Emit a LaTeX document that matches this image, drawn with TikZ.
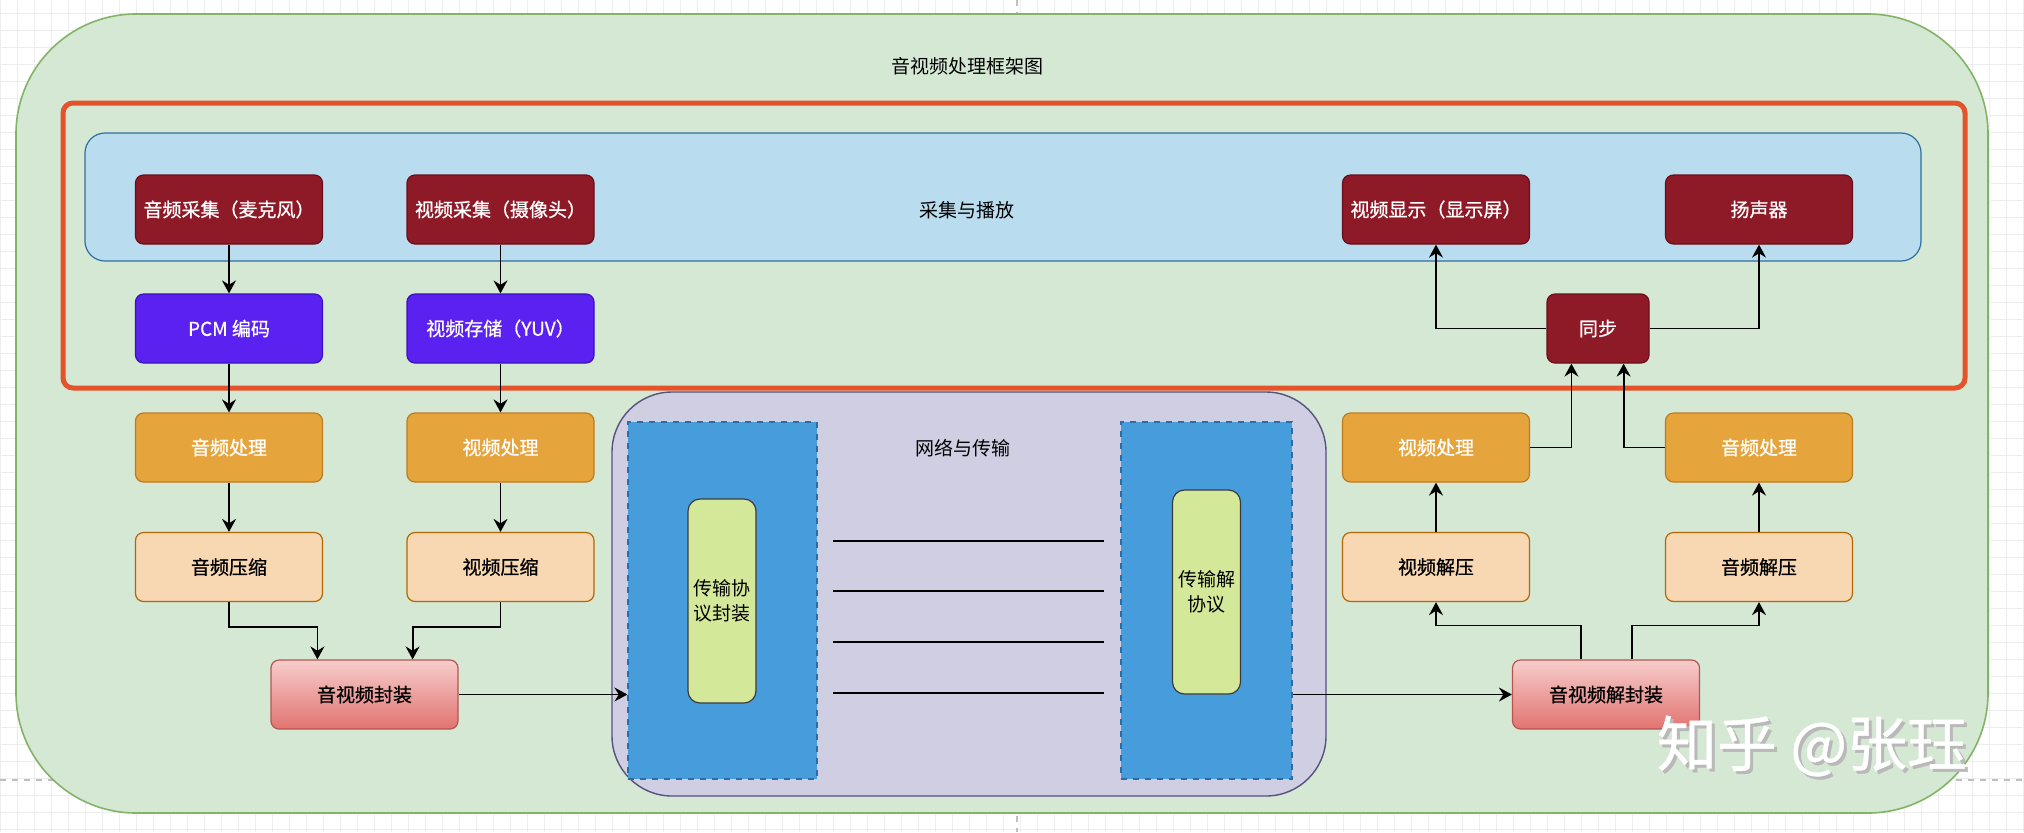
\documentclass[tikz,border=0pt]{standalone}
\usepackage{fontspec}
\setmainfont{Noto Sans CJK SC}
\newfontfamily\boxfont{Noto Sans CJK SC}[FakeBold=0.7]
\usetikzlibrary{arrows.meta}
\definecolor{outerfill}{HTML}{D5E8D4}
\definecolor{outerdraw}{HTML}{82B366}
\definecolor{redline}{HTML}{E5532B}
\definecolor{capfill}{HTML}{B9DCEE}
\definecolor{capdraw}{HTML}{2F6F9F}
\definecolor{darkred}{HTML}{8E1A28}
\definecolor{darkredb}{HTML}{6B0D18}
\definecolor{violet}{HTML}{5B21F0}
\definecolor{violetb}{HTML}{3C10C0}
\definecolor{amber}{HTML}{E6A43C}
\definecolor{amberb}{HTML}{C07A1E}
\definecolor{peach}{HTML}{F8D8B2}
\definecolor{peachb}{HTML}{B46504}
\definecolor{gradtop}{HTML}{F7CDCB}
\definecolor{gradbot}{HTML}{E27370}
\definecolor{gradb}{HTML}{B85450}
\definecolor{lav}{HTML}{D0CEE2}
\definecolor{lavb}{HTML}{56517E}
\definecolor{dblue}{HTML}{479DDB}
\definecolor{dblueb}{HTML}{2E6DA4}
\definecolor{lime}{HTML}{D4E89A}
\definecolor{limeb}{HTML}{3A3A3A}
\definecolor{gridc}{HTML}{EDEDED}
\begin{document}
\begin{tikzpicture}[>={Stealth[length=6.5pt,width=7pt,inset=2.2pt]},x=0.5pt,y=-0.5pt,
  every node/.style={font=\fontsize{9.5}{12.5}\selectfont},
  box/.style={draw,rounded corners=4pt,minimum width=93.5pt,minimum height=34.5pt,inner sep=1pt,line width=0.6pt,font=\fontsize{9.5}{12.5}\selectfont\boxfont},
  capbox/.style={box,fill=darkred,draw=darkredb,text=white},
  rawbox/.style={box,fill=violet,draw=violetb,text=white},
  procbox/.style={box,fill=amber,draw=amberb,text=white},
  zipbox/.style={box,fill=peach,draw=peachb},
  muxbox/.style={box,top color=gradtop,bottom color=gradbot,draw=gradb},
  dashbox/.style={draw=dblueb,fill=dblue,dashed,line width=0.6pt},
  pill/.style={draw=limeb,fill=lime,rounded corners=6pt,minimum width=34pt,minimum height=102pt,align=center,inner sep=1pt,line width=0.6pt},
  link/.style={->,line width=0.9pt}]
\useasboundingbox (0,0) rectangle (2024,832);
\fill[white] (0,0) rectangle (2024,832);
\foreach \gx in {0,17,...,2024} \draw[gridc,line width=0.4pt] (\gx,0) -- (\gx,832);
\foreach \gy in {13,30,...,832} \draw[gridc,line width=0.4pt] (0,\gy) -- (2024,\gy);
\draw[gray!50,dashed,line width=0.6pt] (0,780) -- (2024,780);
\draw[gray!50,dashed,line width=0.6pt] (1017,0) -- (1017,832);
\draw[fill=outerfill,draw=outerdraw,line width=0.8pt,rounded corners=60pt] (16,14) rectangle (1988,813);
\node (title) at (967,66) {音视频处理框架图};
\draw[redline,line width=2.5pt,rounded corners=5pt] (63,103) rectangle (1965,388);
\draw[fill=capfill,draw=capdraw,line width=0.6pt,rounded corners=10pt] (85,133) rectangle (1921,261);
\node (capt) at (967,210) {采集与播放};
\draw[fill=lav,draw=lavb,line width=0.7pt,rounded corners=30pt] (612,392) rectangle (1326,796);
\node (nett) at (963,448) {网络与传输};
\node[dashbox,minimum width=94.5pt,minimum height=178.5pt] (lbox) at (722.5,600.5) {};
\node[dashbox,minimum width=85.5pt,minimum height=178.5pt] (rbox) at (1206.5,600.5) {};
\node[pill] (pack) at (722,601) {传输协\\议封装};
\node[pill] (unpack) at (1206.5,592) {传输解\\协议};
\foreach \ly in {541,591,642,693} \draw[line width=1pt] (833,\ly) -- (1104,\ly);
\node[capbox] (acap) at (229,209.5) {音频采集（麦克风）};
\node[capbox] (vcap) at (500.5,209.5) {视频采集（摄像头）};
\node[rawbox] (pcm) at (229,328.5) {PCM 编码};
\node[rawbox] (yuv) at (500.5,328.5) {视频存储（YUV）};
\node[procbox] (aproc) at (229,447.5) {音频处理};
\node[procbox] (vproc) at (500.5,447.5) {视频处理};
\node[zipbox] (acomp) at (229,567) {音频压缩};
\node[zipbox] (vcomp) at (500.5,567) {视频压缩};
\node[muxbox] (mux) at (364.5,694.5) {音视频封装};
\node[capbox] (vdisp) at (1436,209.5) {视频显示（显示屏）};
\node[capbox] (spk) at (1759,209.5) {扬声器};
\node[capbox,minimum width=51pt] (sync) at (1598,328.5) {同步};
\node[procbox] (vproc2) at (1436,447.5) {视频处理};
\node[procbox] (aproc2) at (1759,447.5) {音频处理};
\node[zipbox] (vdec) at (1436,567) {视频解压};
\node[zipbox] (adec) at (1759,567) {音频解压};
\node[muxbox] (demux) at (1606,694.5) {音视频解封装};
\draw[link] (acap) -- (pcm);
\draw[link] (vcap) -- (yuv);
\draw[link] (pcm) -- (aproc);
\draw[link] (yuv) -- (vproc);
\draw[link] (aproc) -- (acomp);
\draw[link] (vproc) -- (vcomp);
\draw[link] (acomp.south) -- ++(0,25) -| ([xshift=23.5pt]mux.north west);
\draw[link] (vcomp.south) -- ++(0,25) -| ([xshift=-23pt]mux.north east);
\draw[link] (mux.east) -- (mux -| lbox.west);
\draw[link] (rbox.east |- demux) -- (demux.west);
\draw[link] ([xshift=34.5pt]demux.north west) -- ++(0,-34) -| (vdec.south);
\draw[link] ([xshift=-34pt]demux.north east) -- ++(0,-34) -| (adec.south);
\draw[link] (vdec) -- (vproc2);
\draw[link] (adec) -- (aproc2);
\draw[link] (vproc2.east) -| ([xshift=12.5pt]sync.south west);
\draw[link] (aproc2.west) -| ([xshift=-13pt]sync.south east);
\draw[link] (sync.west) -| (vdisp.south);
\draw[link] (sync.east) -| (spk.south);
\node[text=gray!55,font=\fontsize{30}{30}\selectfont\boxfont] (wmshade) at (1815,749) {知乎 @张珏};
\node[text=white,font=\fontsize{30}{30}\selectfont\boxfont] (wm) at (1812,746) {知乎 @张珏};
\end{tikzpicture}
\end{document}
